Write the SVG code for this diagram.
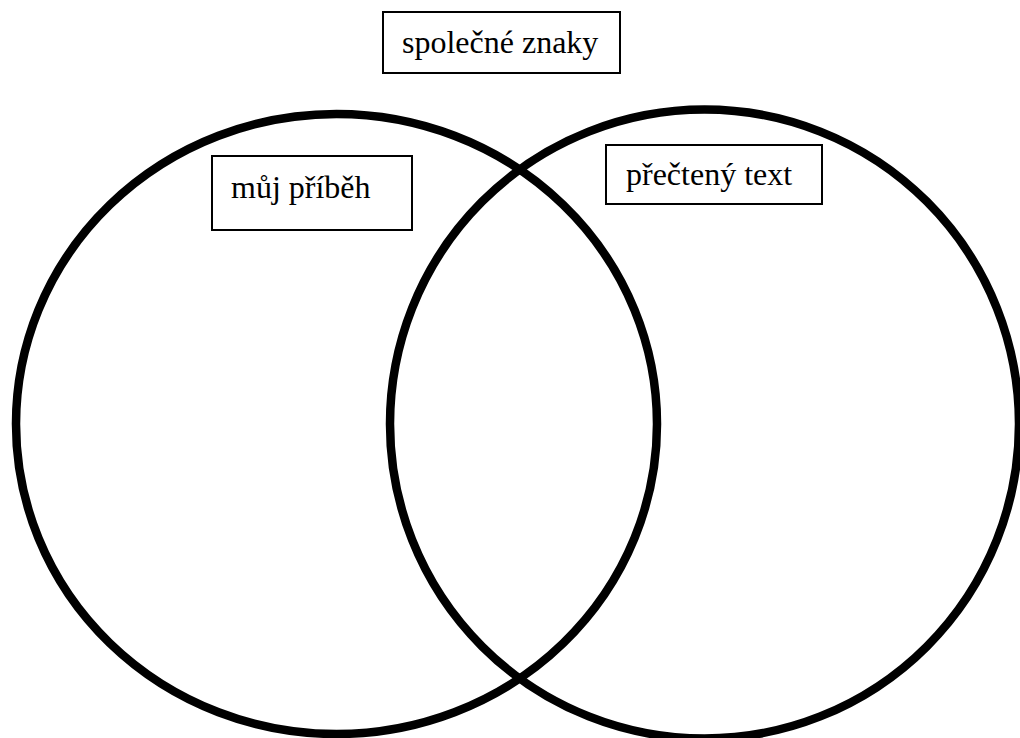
<svg xmlns="http://www.w3.org/2000/svg" width="1020" height="738" viewBox="0 0 1020 738">
<style>
.ring{fill:none;stroke:#000;stroke-width:8.5}
.box{fill:#fff;stroke:#000;stroke-width:2}
.lbl{font-family:"Liberation Serif","Times New Roman",serif;font-size:32px;fill:#000}
</style>
<rect width="1020" height="738" fill="#fff"/>
<g id="circles">
<ellipse id="left-set" class="ring" cx="336.5" cy="424" rx="320.5" ry="310"/>
<circle id="right-set" class="ring" cx="704.5" cy="424" r="314.5"/>
</g>
<g id="node-common">
<rect class="box" x="383" y="12" width="237" height="61"/>
<text class="lbl" x="402" y="53">společné znaky</text>
</g>
<g id="node-story">
<rect class="box" x="212" y="156" width="200" height="74"/>
<text class="lbl" x="231" y="198">můj příběh</text>
</g>
<g id="node-text">
<rect class="box" x="606" y="145" width="216" height="59"/>
<text class="lbl" x="626" y="185">přečtený text</text>
</g>
<g id="connectors"/>
</svg>
